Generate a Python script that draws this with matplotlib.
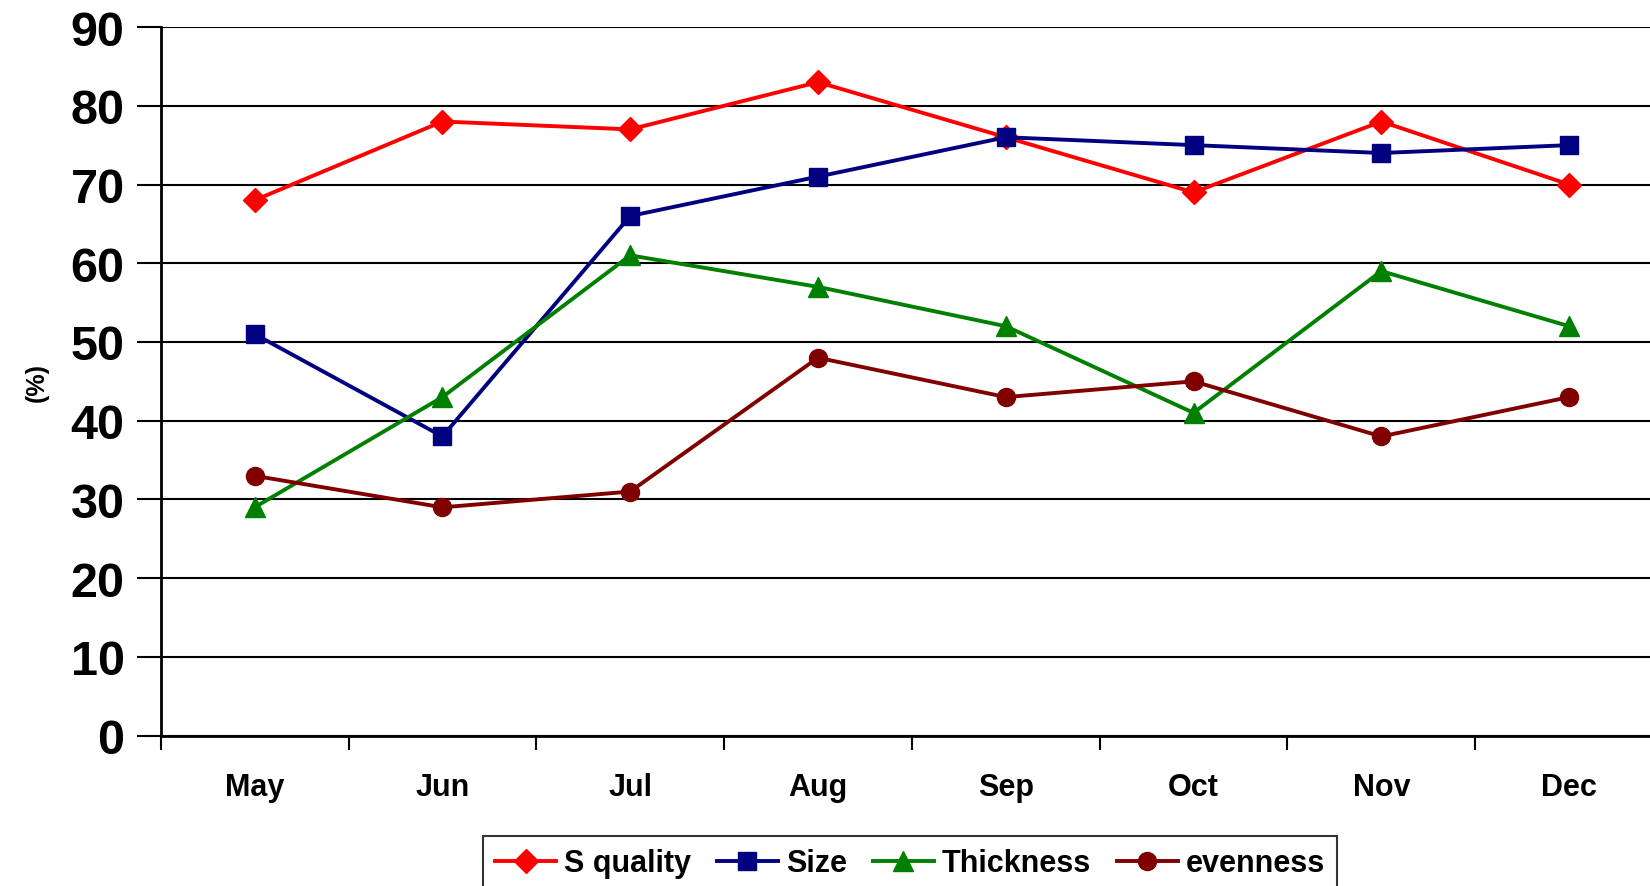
import matplotlib
matplotlib.use("Agg")
import matplotlib.pyplot as plt
import numpy as np

plt.rcParams["font.family"] = ["Liberation Sans", "DejaVu Sans"]
plt.rcParams["font.weight"] = "bold"

months = ["May", "Jun", "Jul", "Aug", "Sep", "Oct", "Nov", "Dec"]
s_quality = [68, 78, 77, 83, 76, 69, 78, 70]
size = [51, 38, 66, 71, 76, 75, 74, 75]
thickness = [29, 43, 61, 57, 52, 41, 59, 52]
evenness = [33, 29, 31, 48, 43, 45, 38, 43]

series = [
    ("S quality", s_quality, "#FF0000", "D", 12),
    ("Size", size, "#000080", "s", 13),
    ("Thickness", thickness, "#008000", "^", 15),
    ("evenness", evenness, "#800000", "o", 13),
]

fig = plt.figure(figsize=(16.5, 8.87), dpi=100)
ax = fig.add_axes([0.0974, 0.1695, 0.9105, 0.7989])

x = np.arange(len(months)) + 0.5
for name, vals, color, marker, ms in series:
    ax.plot(x, vals, color=color, lw=2.8, marker=marker, ms=ms,
            markeredgecolor=color, label=name, clip_on=False)

ax.set_xlim(0, len(months))
ax.set_ylim(0, 90)
ax.set_yticks(range(0, 91, 10))
ax.yaxis.grid(True, color="black", lw=1.5)
ax.set_axisbelow(True)

# month names sit between the boundary ticks
ax.set_xticks(np.arange(len(months) + 1))
ax.set_xticklabels([])
ax.set_xticks(x, minor=True)
ax.set_xticklabels(months, minor=True, fontsize=22, fontweight="bold")
ax.tick_params(axis="x", which="minor", length=0, pad=26)
ax.tick_params(axis="x", which="major", length=10, width=1.5, direction="out")
ax.tick_params(axis="y", length=17, width=1.5, labelsize=35, pad=9)
for lab in ax.get_yticklabels():
    lab.set_fontweight("bold")

ax.spines["top"].set_visible(False)
ax.spines["right"].set_visible(False)
ax.spines["left"].set_linewidth(2)
ax.spines["bottom"].set_linewidth(2)

ax.set_ylabel("(%)", fontsize=18, fontweight="bold", labelpad=16)

leg = fig.legend(loc="upper left", bbox_to_anchor=(0.2927, 0.0564),
                 bbox_transform=fig.transFigure, ncol=4, fontsize=22,
                 frameon=True, fancybox=False, borderaxespad=0,
                 handlelength=2.0, handletextpad=0.25, columnspacing=0.85,
                 borderpad=0.4)
leg.get_frame().set_edgecolor("black")
leg.get_frame().set_linewidth(1.5)
for t in leg.get_texts():
    t.set_fontweight("bold")

fig.savefig("out.png", dpi=100)
